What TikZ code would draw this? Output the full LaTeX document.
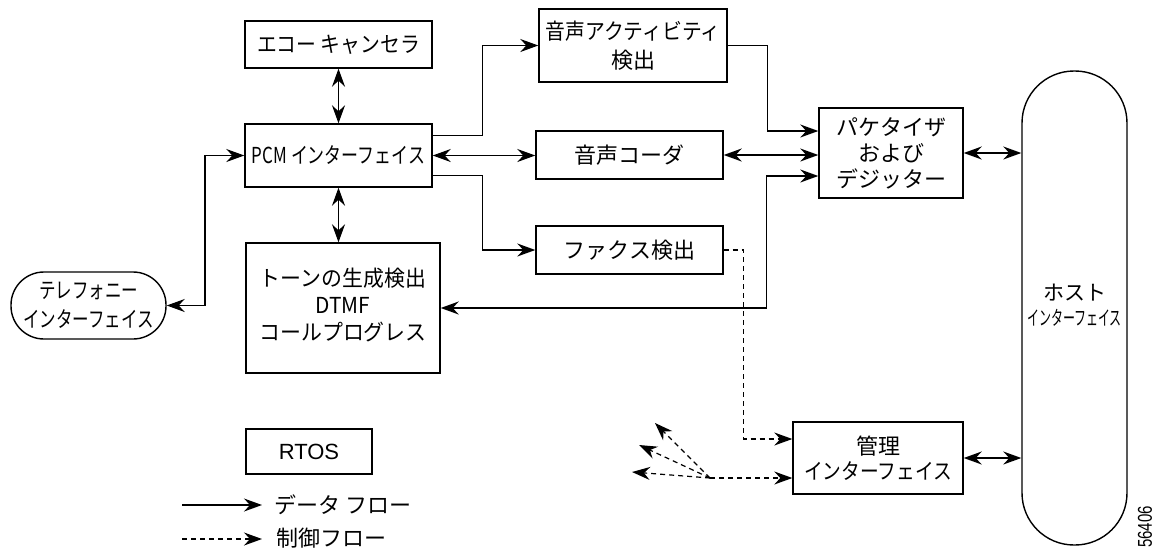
\documentclass[tikz,border=0pt]{standalone}
\usepackage{fontspec}
\setmainfont{Noto Sans CJK JP}
\newfontfamily\latinfont{Liberation Sans}
\usetikzlibrary{arrows.meta}
\newcommand{\hsq}[2]{\scalebox{#1}[1]{#2}}
\newcommand{\liftc}[2]{\raisebox{#1}{\begin{tabular}{@{}c@{}}#2\end{tabular}}}
\begin{document}
\begin{tikzpicture}[x=1pt,y=-1pt,
  mytip/.tip={Stealth[length=18pt,width=13pt,inset=6pt]},
  box/.style={draw,line width=1.4pt,inner sep=0pt,align=center,font=\fontsize{22}{27}\selectfont},
  txt/.style={inner sep=0pt,font=\fontsize{22}{27}\selectfont},
  conn/.style={line width=1.4pt},
  arr/.style={conn,-mytip},
  darr/.style={conn,mytip-mytip},
  ctl/.style={line width=1.2pt,dash pattern=on 5pt off 4pt,-mytip}
]
\useasboundingbox (0,0) rectangle (1154,550);

% boxes
\node[box,minimum width=187pt,minimum height=47pt] (echo) at (338.5,44.5) {\hsq{0.9}{エコー キャンセラ}};
\node[box,minimum width=187pt,minimum height=63pt] (pcm) at (338.5,155.5) {\hsq{0.77}{PCM インターフェイス}};
\node[box,minimum width=194pt,minimum height=130pt] (tone) at (343,308) {\liftc{5pt}{\hsq{0.95}{トーンの生成検出}\\\hsq{0.95}{DTMF}\\\hsq{0.95}{コールプログレス}}};
\node[box,rounded corners=33pt,minimum width=155pt,minimum height=67pt,font=\fontsize{22}{29}\selectfont] (tel) at (88.5,305.5) {\hsq{0.75}{テレフォニー}\\\hsq{0.75}{インターフェイス}};
\node[box,minimum width=188pt,minimum height=73pt,font=\fontsize{22}{29}\selectfont] (va) at (633,45.5) {\hsq{0.9}{音声アクティビティ}\\検出};
\node[box,minimum width=187pt,minimum height=48pt] (vc) at (629.5,155) {音声コーダ};
\node[box,minimum width=187pt,minimum height=48pt] (fax) at (629.5,250) {ファクス検出};
\node[box,minimum width=144pt,minimum height=90pt,font=\fontsize{22}{26}\selectfont] (pkt) at (891,153) {パケタイザ\\および\\デジッター};
\node[box,rounded corners=52pt,minimum width=105pt,minimum height=474pt,font=\fontsize{21}{25}\selectfont] (host) at (1074.5,308) {\liftc{14pt}{ホスト\\\hsq{0.6}{\fontsize{20}{25}\selectfont インターフェイス}}};
\node[box,minimum width=170pt,minimum height=72pt,font=\fontsize{22}{25}\selectfont] (mgmt) at (878,458) {管理\\\hsq{0.85}{インターフェイス}};
\node[box,minimum width=126pt,minimum height=45pt,font=\latinfont\fontsize{22}{27}\selectfont] (rtos) at (309,451.5) {RTOS};

% data connectors
\draw[darr] (echo.south) -- (pcm.north);
\draw[darr] (pcm.south) -- (pcm.south |- tone.north);
\coordinate (L) at (205,155.5);
\draw[darr] (tel.east) -| (L) -- (pcm.west);
\draw[arr] ([yshift=-12pt]pcm.north east) -- ++(50,0) |- (va.west);
\draw[darr] (pcm.east) -- (pcm.east -| vc.west);
\draw[arr] ([yshift=12pt]pcm.south east) -- ++(50,0) |- (fax.west);
\draw[arr] (va.east) -- ++(40,0) |- ([yshift=22pt]pkt.west);
\draw[darr] (vc.east) -- (vc.east -| pkt.west);
\draw[darr] ([yshift=-23pt]pkt.west) -- ++(-52,0) |- (tone.east);
\draw[darr] (pkt.east) -- (pkt.east -| host.west);
\draw[darr] (mgmt.east) -- (mgmt.east -| host.west);

% control connectors
\draw[ctl] (fax.east) -- ++(20,0) |- ([yshift=19pt]mgmt.west);
\coordinate (F) at (710,478);
\coordinate (f1) at (655,423);
\coordinate (f2) at (639,445);
\coordinate (f3) at (632,472);
\draw[ctl] (F) -- (F -| mgmt.west);
\draw[ctl] (F) -- (f1);
\draw[ctl] (F) -- (f2);
\draw[ctl] (F) -- (f3);

% legend
\coordinate (l1a) at (182,505);
\coordinate (l1b) at (262,505);
\coordinate (l2a) at (182,539);
\coordinate (l2b) at (262,539);
\draw[arr] (l1a) -- (l1b);
\draw[ctl] (l2a) -- (l2b);
\node[txt,anchor=west] (l1t) at (274,505) {データ フロー};
\node[txt,anchor=west] (l2t) at (276,538) {制御フロー};

% figure number
\node[inner sep=0pt,rotate=90,anchor=east,font=\latinfont\fontsize{20}{24}\selectfont] (fig) at (1145,506) {\hsq{0.75}{56406}};
\end{tikzpicture}
\end{document}
